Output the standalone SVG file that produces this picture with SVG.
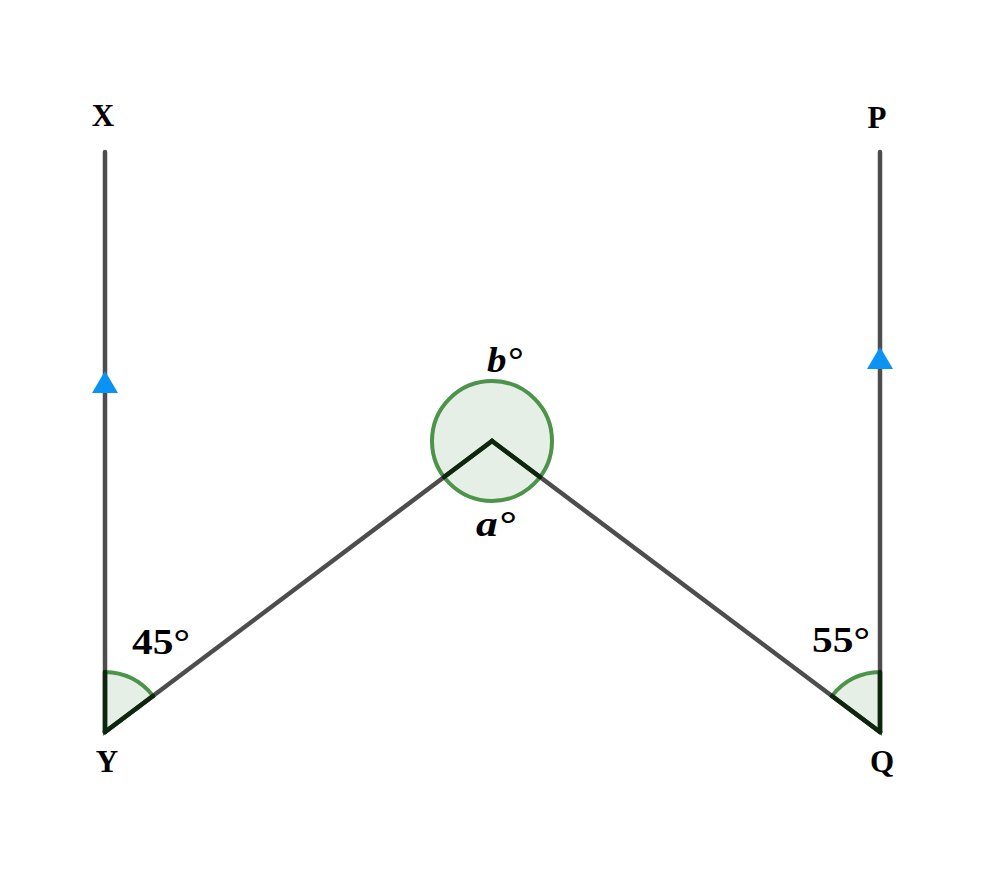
<svg xmlns="http://www.w3.org/2000/svg" width="994" height="872" viewBox="0 0 994 872">
<style>
.seg{stroke:#4d4d4d;stroke-width:4.5;stroke-linecap:round;fill:none}
.ang{fill:#e6efe5;stroke:#4b944a;stroke-width:4}
.rad{stroke:#0d260d;stroke-width:4.5;stroke-linecap:round;fill:none}
.arr{fill:#0a93f5}
.lbl{font-family:"Liberation Serif",serif;font-weight:bold;font-size:31px;fill:#000;text-anchor:middle}
.num{font-family:"Liberation Serif",serif;font-weight:bold;font-size:35px;fill:#000}
.it{font-style:italic}
</style>
<rect width="994" height="872" fill="#fff"/>
<g id="angles">
<path class="ang" d="M105,732 L105,672 A60,60 0 0 1 153,696 Z"/>
<path class="ang" d="M880,732 L880,672 A60,60 0 0 0 832,696 Z"/>
<circle class="ang" cx="492" cy="441" r="60"/>
</g>
<g id="connectors">
<line class="seg" x1="105" y1="152" x2="105" y2="732"/>
<line class="seg" x1="880" y1="152" x2="880" y2="732"/>
<line class="seg" x1="105" y1="732" x2="492" y2="441"/>
<line class="seg" x1="880" y1="732" x2="492" y2="441"/>
<line class="rad" x1="105" y1="732" x2="105" y2="672"/>
<line class="rad" x1="105" y1="732" x2="153" y2="696"/>
<line class="rad" x1="880" y1="732" x2="880" y2="672"/>
<line class="rad" x1="880" y1="732" x2="832" y2="696"/>
<line class="rad" x1="444" y1="477" x2="492" y2="441"/>
<line class="rad" x1="540" y1="477" x2="492" y2="441"/>
<polygon class="arr" points="105,371 92,393 118,393"/>
<polygon class="arr" points="880,347 867,369 893,369"/>
</g>
<g id="X"><text class="lbl" x="103" y="126">X</text></g>
<g id="P"><text class="lbl" x="877" y="128">P</text></g>
<g id="Y"><text class="lbl" x="107" y="772">Y</text></g>
<g id="Q"><text class="lbl" x="882" y="772">Q</text></g>
<g id="label45"><text class="num" x="132" y="654" textLength="58" lengthAdjust="spacingAndGlyphs">45°</text></g>
<g id="label55"><text class="num" x="812" y="652" textLength="58" lengthAdjust="spacingAndGlyphs">55°</text></g>
<g id="labelb"><text class="num it" x="487" y="372" textLength="35" lengthAdjust="spacingAndGlyphs">b°</text></g>
<g id="labela"><text class="num it" x="476" y="536" textLength="39" lengthAdjust="spacingAndGlyphs">a°</text></g>
</svg>
